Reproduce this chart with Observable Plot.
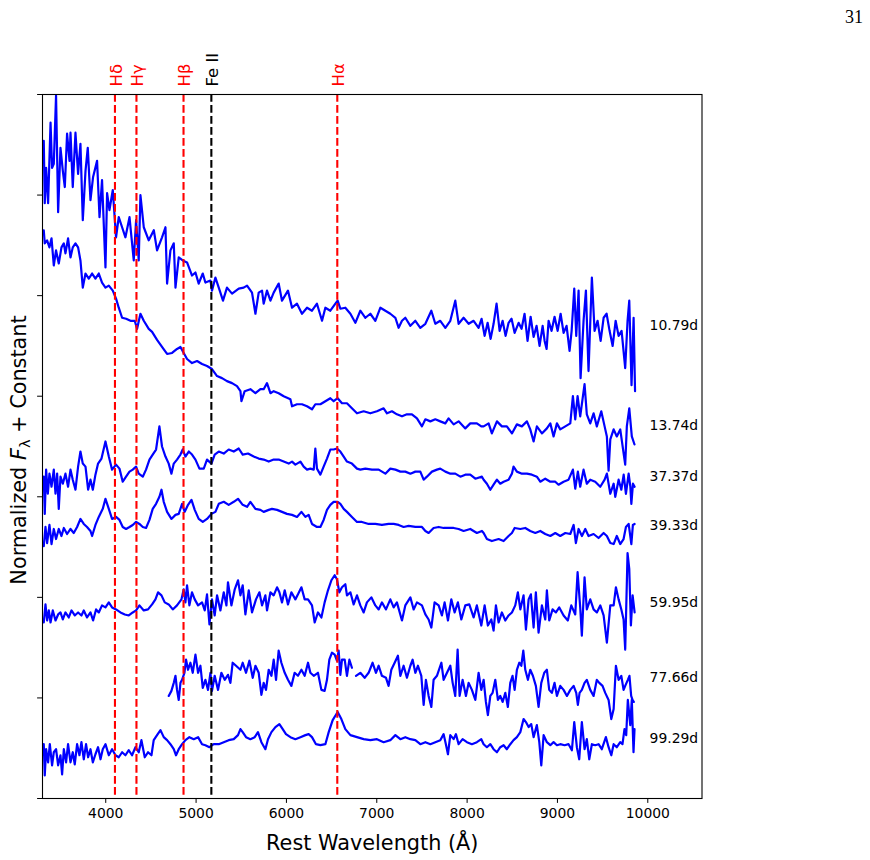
<!DOCTYPE html>
<html>
<head>
<meta charset="utf-8">
<script src="https://cdn.jsdelivr.net/npm/d3@7"></script>
<script src="https://cdn.jsdelivr.net/npm/@observablehq/plot@0.6"></script>
<style>
  body { margin: 0; background: #fff; }
  #wrap { position: relative; width: 870px; height: 860px; }
  #page { position: absolute; left: 845px; top: 7px; font-family: "Liberation Serif", serif; font-size: 18px; color: #000; }
</style>
</head>
<body>
<div id="wrap"><div id="chart"></div><div id="page">31</div></div>
<script>
// Spectral epochs (days) and their sampled spectra: rest wavelength (Å) and normalized flux + offset
const epochs = ["10.79d", "13.74d", "37.37d", "39.33d", "59.95d", "77.66d", "99.29d"];

const w1079 = [3314,3325,3340,3362,3389,3406,3425,3450,3473,3499,3525,3547,3572,3599,3610,3635,3665,3694,3720,3746,3776,3801,3831,3860,3904,3931,3959,3997,4015,4041,4078,4114,4144,4181,4218,4263,4310,4336,4365,4384,4421,4476,4532,4568,4623,4661,4679,4716,4753,4772,4808,4852,4900,4955,4993,5029,5074,5103,5159,5176,5214,5251,5298,5342,5398,5472,5527,5564,5619,5657,5693,5730,5748,5785,5823,5859,5914,5951,6017,6062,6117,6172,6228,6283,6338,6394,6431,6486,6542,6567,6597,6652,6708,6763,6818,6874,6929,6984,7040,7095,7150,7206,7242,7279,7316,7372,7427,7482,7538,7604,7648,7703,7759,7814,7869,7906,7961,8017,8072,8127,8160,8194,8227,8260,8293,8326,8360,8393,8426,8459,8492,8526,8570,8603,8636,8669,8703,8736,8769,8802,8836,8858,8880,8902,8935,8968,9002,9035,9068,9101,9134,9157,9186,9208,9234,9256,9289,9315,9344,9381,9411,9444,9478,9511,9544,9577,9611,9644,9677,9710,9750,9776,9795,9820,9843,9859];
const f1079 = [6.54,5.92,6.27,5.92,6.72,6.27,6.31,6.99,5.83,6.47,6.24,6.08,6.61,6.34,6.62,6.08,6.62,6.21,6.51,5.75,6.24,6.47,5.95,6.18,6.34,5.78,6.15,5.28,6.02,5.85,6.05,5.58,5.78,5.68,5.58,5.78,5.35,5.75,5.35,6.00,5.68,5.55,5.65,5.45,5.58,5.68,5.12,5.45,5.52,5.08,5.38,5.35,5.33,5.20,5.23,5.12,5.22,5.13,5.15,5.05,5.18,5.08,4.95,5.08,5.02,5.07,5.08,5.10,5.03,4.82,5.03,5.05,4.92,5.05,4.95,5.03,5.12,4.95,5.05,4.88,4.92,4.82,4.88,4.85,4.92,4.75,4.88,4.85,4.92,4.95,4.87,4.88,4.82,4.73,4.85,4.78,4.82,4.75,4.88,4.85,4.82,4.78,4.68,4.75,4.78,4.70,4.75,4.68,4.72,4.85,4.72,4.75,4.68,4.75,4.95,4.72,4.78,4.72,4.75,4.68,4.77,4.60,4.73,4.57,4.72,4.92,4.65,4.75,4.60,4.73,4.77,4.63,4.73,4.67,4.82,4.55,4.79,4.59,4.70,4.50,4.70,4.55,4.47,4.75,4.65,4.79,4.65,4.82,4.63,4.70,4.45,4.65,5.07,4.60,5.05,4.18,4.75,5.05,4.25,5.18,4.65,4.75,4.55,4.78,4.82,4.65,4.50,4.75,4.60,4.65,4.28,4.75,4.95,4.11,4.78,4.05];

const w1374 = [3314,3325,3351,3377,3400,3425,3450,3480,3510,3536,3554,3583,3610,3635,3665,3694,3720,3746,3776,3812,3849,3886,3923,3959,3997,4034,4078,4114,4144,4181,4225,4274,4321,4347,4384,4421,4476,4513,4568,4623,4679,4734,4789,4827,4863,4900,4955,5011,5066,5121,5176,5232,5287,5342,5398,5453,5491,5502,5538,5601,5657,5712,5748,5785,5823,5859,5914,5970,6044,6062,6117,6172,6228,6283,6320,6376,6431,6486,6523,6567,6615,6670,6725,6781,6855,6929,7002,7076,7113,7168,7223,7279,7334,7389,7445,7500,7538,7593,7648,7703,7759,7795,7851,7906,7980,8035,8108,8157,8183,8238,8274,8330,8385,8440,8496,8551,8606,8662,8699,8736,8772,8828,8883,8921,8957,8994,9031,9087,9142,9171,9197,9223,9252,9300,9325,9363,9400,9436,9485,9522,9547,9566,9585,9622,9657,9695,9750,9768,9795,9823,9853];
const f1374 = [5.65,5.52,5.55,5.48,5.57,5.30,5.45,5.32,5.48,5.52,5.42,5.57,5.38,5.48,5.52,5.48,5.35,5.08,5.22,5.17,5.22,5.17,5.22,5.13,5.08,5.10,5.05,4.97,4.88,4.78,4.77,4.75,4.75,4.67,4.82,4.75,4.67,4.64,4.56,4.49,4.42,4.43,4.47,4.49,4.43,4.37,4.33,4.35,4.32,4.30,4.27,4.20,4.18,4.15,4.13,4.10,4.05,3.95,4.05,4.07,4.03,4.07,4.07,4.13,4.03,4.05,4.03,4.00,3.97,3.90,3.92,3.92,3.90,3.87,3.92,3.92,3.95,3.98,3.95,3.98,3.93,3.93,3.88,3.83,3.85,3.83,3.85,3.88,3.83,3.85,3.82,3.80,3.82,3.82,3.78,3.70,3.77,3.75,3.77,3.75,3.73,3.78,3.72,3.75,3.68,3.73,3.73,3.70,3.70,3.73,3.63,3.75,3.70,3.70,3.63,3.72,3.70,3.75,3.67,3.55,3.70,3.63,3.68,3.73,3.60,3.73,3.67,3.70,3.73,4.00,3.77,4.00,3.80,4.12,3.82,3.73,3.83,3.70,3.85,3.70,3.60,3.26,3.57,3.67,3.60,3.67,3.32,3.70,3.88,3.60,3.52];

const w3737 = [3314,3325,3340,3359,3377,3400,3425,3444,3462,3480,3499,3525,3554,3583,3610,3635,3665,3694,3720,3746,3776,3805,3831,3857,3886,3915,3953,3997,4034,4070,4114,4152,4188,4225,4263,4299,4336,4365,4410,4446,4484,4520,4557,4594,4623,4661,4697,4727,4753,4789,4827,4852,4882,4919,4955,4993,5037,5085,5121,5170,5206,5251,5306,5361,5417,5472,5516,5575,5638,5693,5748,5804,5859,5914,5970,6025,6062,6099,6155,6191,6228,6265,6302,6320,6338,6376,6412,6449,6486,6523,6560,6597,6634,6670,6725,6781,6818,6874,6947,7021,7095,7150,7206,7261,7316,7372,7427,7482,7519,7555,7611,7666,7703,7759,7814,7869,7925,7980,8035,8091,8164,8183,8219,8257,8293,8330,8367,8404,8459,8496,8514,8551,8606,8662,8717,8772,8810,8865,8921,8976,9012,9068,9123,9171,9197,9226,9252,9289,9325,9363,9418,9474,9522,9547,9585,9622,9640,9677,9707,9733,9758,9788,9807,9818,9836,9854];
const f3737 = [3.20,2.83,3.27,3.03,3.23,3.10,3.27,3.03,3.23,2.88,3.20,3.13,3.23,3.10,3.27,3.17,3.07,3.30,3.45,3.33,3.30,3.07,3.17,3.07,3.22,3.33,3.38,3.55,3.40,3.27,3.32,3.28,3.15,3.20,3.25,3.27,3.30,3.23,3.20,3.27,3.37,3.42,3.47,3.70,3.50,3.40,3.33,3.23,3.33,3.37,3.42,3.47,3.40,3.45,3.42,3.37,3.28,3.28,3.37,3.33,3.42,3.45,3.43,3.47,3.45,3.48,3.42,3.43,3.40,3.38,3.37,3.35,3.37,3.37,3.35,3.33,3.35,3.32,3.35,3.30,3.27,3.28,3.27,3.48,3.28,3.22,3.30,3.38,3.47,3.47,3.48,3.45,3.40,3.35,3.33,3.28,3.27,3.28,3.27,3.27,3.23,3.28,3.27,3.25,3.25,3.23,3.25,3.25,3.17,3.20,3.25,3.27,3.28,3.25,3.23,3.23,3.20,3.22,3.22,3.18,3.20,3.17,3.13,3.07,3.12,3.17,3.13,3.15,3.17,3.23,3.30,3.25,3.23,3.23,3.22,3.20,3.15,3.18,3.15,3.15,3.12,3.15,3.17,3.27,3.08,3.25,3.10,3.27,3.13,3.17,3.15,3.10,3.17,3.23,3.03,3.13,3.00,3.17,3.07,3.22,3.03,3.23,3.10,2.93,3.13,3.10];

const w3933 = [3314,3333,3351,3377,3400,3425,3450,3480,3510,3536,3572,3610,3646,3683,3720,3757,3793,3831,3849,3886,3923,3967,3997,4034,4070,4114,4152,4188,4225,4263,4299,4336,4373,4410,4446,4484,4520,4557,4594,4617,4642,4679,4727,4772,4808,4845,4874,4911,4949,4985,5029,5074,5121,5170,5214,5251,5306,5361,5417,5464,5516,5564,5601,5657,5712,5748,5804,5840,5896,5951,6006,6062,6117,6166,6210,6246,6283,6338,6376,6412,6449,6486,6523,6567,6597,6634,6670,6725,6781,6836,6910,6984,7057,7131,7187,7242,7297,7353,7427,7500,7538,7574,7629,7685,7740,7795,7851,7906,7961,8035,8108,8164,8183,8219,8274,8349,8404,8459,8496,8526,8589,8644,8699,8755,8810,8865,8921,8976,9031,9087,9142,9179,9204,9234,9271,9308,9344,9400,9455,9511,9547,9585,9622,9657,9695,9732,9758,9788,9818,9835,9854];
const f3933 = [2.51,2.70,2.54,2.72,2.53,2.68,2.58,2.68,2.61,2.69,2.63,2.68,2.64,2.70,2.78,2.73,2.70,2.66,2.61,2.72,2.80,2.88,2.98,2.88,2.78,2.80,2.77,2.70,2.68,2.70,2.72,2.75,2.73,2.70,2.69,2.77,2.88,2.93,3.00,3.07,2.95,2.85,2.78,2.82,2.83,2.93,2.85,2.92,2.97,2.87,2.78,2.75,2.78,2.83,2.85,2.93,2.95,2.92,2.95,2.98,2.92,2.90,2.95,2.88,2.87,2.85,2.87,2.88,2.87,2.85,2.83,2.82,2.80,2.85,2.80,2.82,2.73,2.70,2.70,2.77,2.87,2.92,2.95,2.95,2.93,2.88,2.85,2.80,2.75,2.75,2.73,2.73,2.72,2.73,2.73,2.72,2.70,2.71,2.70,2.70,2.66,2.64,2.69,2.70,2.69,2.69,2.69,2.68,2.66,2.68,2.64,2.66,2.64,2.58,2.56,2.58,2.56,2.61,2.64,2.69,2.68,2.69,2.66,2.64,2.66,2.63,2.61,2.64,2.61,2.64,2.63,2.72,2.54,2.68,2.61,2.68,2.61,2.63,2.59,2.64,2.61,2.54,2.53,2.61,2.53,2.58,2.70,2.73,2.53,2.72,2.73];

const w5995 = [3314,3333,3351,3370,3389,3414,3444,3473,3499,3525,3554,3591,3621,3657,3694,3731,3757,3793,3831,3860,3893,3923,3959,3997,4034,4070,4114,4163,4211,4255,4299,4336,4373,4421,4468,4513,4550,4579,4617,4653,4697,4742,4789,4838,4863,4882,4900,4926,4955,4985,5022,5066,5096,5121,5148,5176,5206,5232,5269,5306,5336,5353,5391,5428,5464,5491,5516,5546,5583,5619,5663,5701,5730,5767,5785,5823,5859,5896,5922,5951,5981,6017,6055,6099,6128,6166,6202,6239,6283,6313,6349,6387,6423,6460,6498,6534,6559,6586,6615,6652,6670,6708,6744,6781,6818,6855,6891,6940,6984,7021,7057,7102,7150,7187,7223,7279,7316,7372,7408,7445,7500,7538,7574,7604,7640,7685,7721,7751,7788,7825,7862,7898,7936,7980,8024,8072,8108,8157,8194,8230,8268,8293,8319,8349,8385,8423,8459,8496,8533,8562,8589,8625,8651,8681,8706,8736,8761,8791,8828,8865,8883,8909,8946,8983,9020,9068,9115,9153,9197,9223,9252,9270,9300,9325,9363,9400,9436,9474,9511,9547,9585,9622,9647,9677,9707,9732,9750,9776,9795,9813,9832,9854];
const f5995 = [1.75,1.93,1.77,1.87,1.75,1.87,1.77,1.83,1.85,1.78,1.85,1.80,1.87,1.82,1.85,1.82,1.87,1.80,1.85,1.77,1.88,1.85,1.92,1.90,1.95,1.90,1.88,1.85,1.83,1.82,1.85,1.87,1.92,1.87,1.88,1.93,1.98,2.05,2.02,1.95,1.93,1.88,1.92,1.98,2.08,1.95,2.12,1.92,2.05,1.98,1.92,1.95,1.87,2.03,1.73,1.98,1.82,2.02,1.87,2.05,1.92,2.15,1.92,2.08,2.17,2.02,2.12,1.83,2.07,1.85,1.98,2.05,1.92,2.02,1.87,2.05,2.02,2.10,2.05,1.95,2.07,1.93,2.05,1.98,2.03,2.10,1.98,1.98,1.92,1.75,1.85,1.80,1.95,2.07,2.17,2.22,2.18,2.05,2.10,2.13,2.02,2.05,1.93,2.02,1.92,1.85,1.95,2.00,1.92,1.88,1.95,1.88,1.98,1.90,1.95,1.77,1.92,2.00,1.88,1.95,1.92,1.83,1.78,1.70,1.95,1.92,1.82,1.95,1.77,1.98,1.85,1.95,1.78,1.92,1.93,1.80,1.92,1.72,1.92,1.72,1.78,1.67,1.92,1.75,1.85,1.77,1.82,1.85,1.92,2.05,1.88,2.02,1.68,1.98,2.03,1.70,2.05,1.65,1.92,1.78,2.07,1.77,1.88,1.85,1.90,1.82,1.77,1.92,1.83,2.25,1.90,1.62,2.20,1.88,1.98,1.88,1.85,1.92,1.82,1.55,1.92,1.92,2.10,1.98,1.88,1.78,1.48,2.44,2.28,1.72,2.02,1.85];

// 77.66d has a short data gap near 6750 Å (null flux)
const w7766 = [4697,4727,4753,4772,4789,4808,4827,4845,4871,4889,4911,4937,4963,4993,5022,5048,5074,5103,5132,5159,5176,5206,5243,5280,5317,5353,5380,5405,5442,5491,5516,5553,5590,5627,5657,5693,5723,5748,5774,5804,5834,5859,5885,5914,5944,5981,6017,6055,6091,6128,6166,6202,6239,6265,6302,6349,6387,6423,6449,6475,6504,6534,6559,6578,6597,6615,6645,6670,6697,6725,6748,6770,6818,6866,6910,6954,6991,7021,7057,7102,7131,7161,7198,7234,7261,7297,7334,7372,7397,7427,7456,7493,7519,7544,7574,7604,7629,7666,7715,7740,7777,7814,7840,7869,7895,7917,7950,7987,8017,8053,8091,8127,8157,8183,8208,8230,8257,8282,8312,8341,8367,8393,8423,8451,8478,8503,8526,8551,8578,8600,8622,8644,8673,8699,8728,8761,8791,8821,8854,8883,8909,8938,8968,8994,9031,9068,9105,9142,9179,9208,9226,9245,9270,9300,9325,9363,9400,9436,9463,9499,9529,9566,9596,9622,9647,9677,9707,9732,9750,9779,9797,9816,9831,9845];
const f7766 = [1.02,1.07,1.15,1.22,1.08,0.98,1.15,1.18,1.25,1.38,1.28,1.35,1.25,1.43,1.25,1.32,1.10,1.18,1.08,1.25,1.07,1.22,1.08,1.25,1.18,1.23,1.15,1.35,1.32,1.28,1.35,1.25,1.37,1.20,1.32,1.25,1.03,1.15,1.08,1.28,1.22,1.38,1.18,1.47,1.35,1.25,1.18,1.12,1.25,1.22,1.28,1.22,1.35,1.25,1.22,1.25,1.08,1.07,1.18,1.38,1.45,1.43,1.37,1.47,1.23,1.38,1.38,1.22,1.38,1.30,null,1.22,1.25,1.20,1.25,1.35,1.25,1.32,1.22,1.20,1.12,1.28,1.35,1.42,1.22,1.32,1.20,1.32,1.38,1.25,1.32,1.22,0.93,1.18,1.02,0.91,1.18,1.22,1.35,1.18,1.25,1.32,1.15,1.02,1.48,1.02,1.18,1.02,1.15,1.08,0.98,1.25,1.08,1.18,0.96,0.83,1.02,1.05,1.18,0.98,1.02,0.96,1.05,0.91,1.15,1.22,1.08,1.28,1.35,1.32,1.47,1.28,1.18,1.28,1.22,1.12,0.91,1.15,1.25,1.28,1.08,1.05,1.15,1.02,1.12,1.08,1.02,1.08,1.12,1.05,0.93,1.05,1.08,1.15,1.18,1.08,1.02,1.18,1.15,1.12,1.05,0.98,0.79,0.89,1.32,1.18,1.22,1.08,1.12,1.18,1.22,1.02,0.98,0.96];

const w9929 = [3314,3325,3340,3362,3381,3406,3425,3450,3473,3499,3517,3536,3561,3583,3610,3635,3657,3683,3709,3731,3757,3782,3805,3831,3857,3886,3915,3942,3967,3997,4034,4070,4108,4144,4181,4218,4255,4291,4329,4365,4395,4432,4468,4506,4531,4568,4606,4642,4679,4716,4753,4778,4808,4845,4882,4926,4974,5022,5066,5103,5148,5195,5251,5306,5361,5417,5464,5491,5516,5553,5601,5649,5685,5723,5767,5796,5834,5878,5922,5959,5995,6044,6099,6155,6210,6246,6283,6327,6376,6431,6468,6512,6567,6608,6652,6708,6781,6855,6929,7002,7076,7150,7206,7261,7316,7372,7427,7482,7538,7593,7648,7703,7740,7765,7788,7814,7851,7876,7906,7950,7998,8053,8108,8157,8183,8219,8257,8293,8330,8367,8404,8440,8478,8514,8551,8589,8625,8651,8681,8710,8736,8772,8799,8821,8847,8883,8921,8957,8994,9031,9079,9123,9160,9186,9215,9241,9270,9300,9325,9352,9381,9418,9455,9491,9536,9566,9596,9622,9657,9695,9720,9742,9761,9779,9806,9823,9842,9853];
const f9929 = [0.54,0.23,0.49,0.36,0.54,0.33,0.46,0.49,0.33,0.43,0.24,0.49,0.36,0.54,0.36,0.46,0.34,0.54,0.43,0.56,0.39,0.54,0.41,0.49,0.36,0.44,0.51,0.39,0.49,0.54,0.43,0.49,0.43,0.41,0.46,0.43,0.48,0.43,0.51,0.46,0.58,0.41,0.46,0.43,0.58,0.63,0.68,0.61,0.58,0.54,0.49,0.43,0.49,0.54,0.58,0.61,0.59,0.61,0.54,0.53,0.51,0.54,0.54,0.56,0.58,0.59,0.63,0.69,0.66,0.61,0.59,0.61,0.66,0.56,0.49,0.59,0.66,0.71,0.74,0.69,0.64,0.61,0.59,0.61,0.63,0.64,0.61,0.54,0.53,0.54,0.66,0.78,0.86,0.79,0.69,0.63,0.61,0.59,0.58,0.59,0.56,0.58,0.63,0.59,0.61,0.59,0.58,0.54,0.56,0.54,0.56,0.58,0.64,0.54,0.44,0.63,0.59,0.64,0.54,0.59,0.56,0.54,0.56,0.59,0.54,0.51,0.54,0.49,0.46,0.51,0.53,0.49,0.54,0.58,0.61,0.66,0.79,0.76,0.71,0.74,0.61,0.73,0.56,0.33,0.63,0.56,0.53,0.56,0.53,0.54,0.53,0.54,0.48,0.76,0.51,0.39,0.76,0.49,0.59,0.39,0.54,0.53,0.54,0.49,0.61,0.51,0.43,0.54,0.51,0.56,0.54,0.69,0.63,0.98,0.73,0.98,0.46,0.69];

const waves = [w1079, w1374, w3737, w3933, w5995, w7766, w9929];
const fluxes = [f1079, f1374, f3737, f3933, f5995, f7766, f9929];

// Vertical level of each epoch label (same units as the flux)
const labelLevel = [4.70, 3.71, 3.20, 2.71, 1.95, 1.20, 0.60];

// Marked spectral lines
const lineNames = ["Hδ", "Hγ", "Hβ", "Fe II", "Hα"];
const lineWaves = [4102, 4340, 4861, 5169, 6563];
const lineColors = ["#ff0000", "#ff0000", "#ff0000", "#000000", "#ff0000"];

const xTicks = [4000, 5000, 6000, 7000, 8000, 9000, 10000];

const rows = epochs.flatMap((e, i) =>
  waves[i].map((w, j) => ({ epoch: e, wave: w, flux: fluxes[i][j] }))
);
const lines = lineNames.map((n, i) => ({ name: n, wave: lineWaves[i], color: lineColors[i] }));
const epochLabels = epochs.map((e, i) => ({ text: e, wave: 10020, level: labelLevel[i] }));

const chart = Plot.plot({
  width: 870,
  height: 860,
  marginLeft: 42,
  marginRight: 168.5,
  marginTop: 94,
  marginBottom: 62,
  style: { fontFamily: "DejaVu Sans", fontSize: "13.9px", background: "white", color: "black", overflow: "visible" },
  x: { domain: [3300, 10600] },
  y: { domain: [0, 7] },
  color: { type: "identity" },
  marks: [
    Plot.line(rows, { x: "wave", y: "flux", z: "epoch", stroke: "#0000ff", strokeWidth: 2.2, strokeLinejoin: "round" }),
    Plot.ruleX(lines, { x: "wave", stroke: "color", strokeWidth: 2.1, strokeDasharray: "7.7,3.3" }),
    Plot.text(lines, { x: "wave", text: "name", fill: "color", frameAnchor: "top", dx: -5, dy: -8, rotate: -90, textAnchor: "start", fontSize: 16.5 }),
    Plot.text(epochLabels, { x: "wave", y: "level", text: "text", textAnchor: "start", fontSize: 13.9, fill: "black" }),
    Plot.axisX({ ticks: xTicks, tickSize: 4.9, tickPadding: 4.9, tickFormat: d => String(d), label: null }),
    Plot.axisY({ ticks: d3.range(0, 8), tickSize: 4.9, tickFormat: () => "", label: null }),
    Plot.frame({ stroke: "black", strokeWidth: 1.1 }),
    Plot.text(["Rest Wavelength (Å)"], { frameAnchor: "bottom", dy: 51, lineAnchor: "bottom", fontSize: 20.8, fill: "black" })
  ]
});

// y-axis title with italic F and subscript lambda
const svg = d3.select(chart);
const yl = svg.append("text")
  .attr("transform", "translate(25.5,450) rotate(-90)")
  .attr("text-anchor", "middle")
  .attr("fill", "black")
  .style("font-family", "DejaVu Sans")
  .style("font-size", "20.8px");
yl.append("tspan").text("Normalized ");
yl.append("tspan").attr("font-style", "italic").text("F");
yl.append("tspan").attr("dy", "4.5").attr("font-size", "14.5px").text("λ");
yl.append("tspan").attr("dy", "-4.5").text(" + Constant");

document.getElementById("chart").appendChild(chart);
</script>
</body>
</html>
